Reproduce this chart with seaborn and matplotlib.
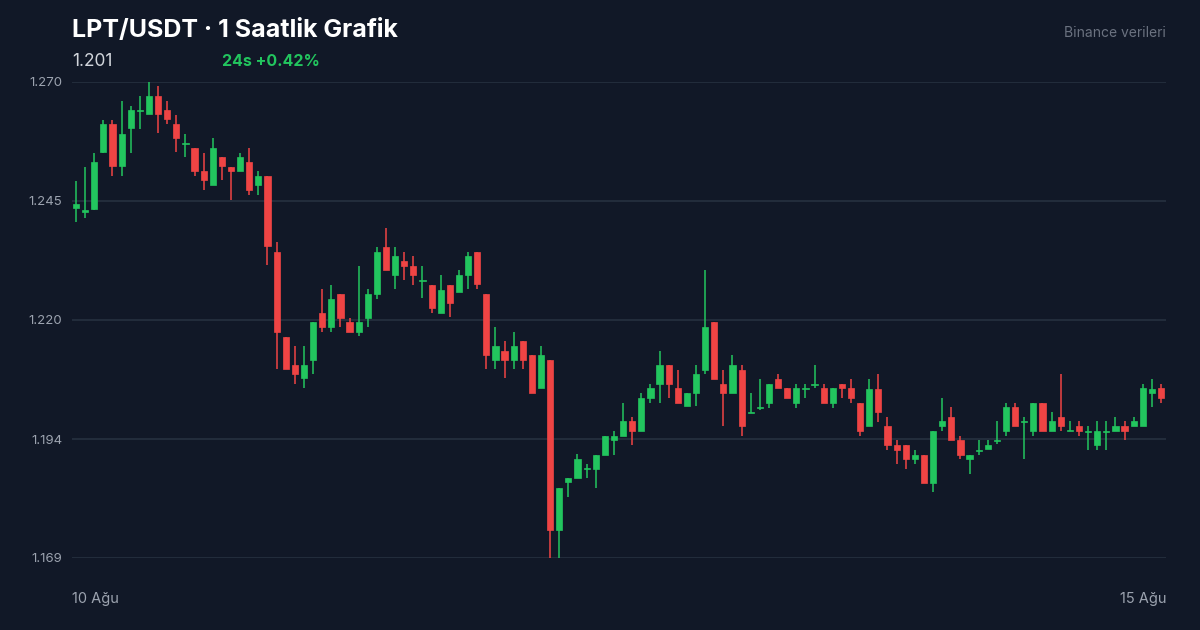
import numpy as np
import pandas as pd
import matplotlib
matplotlib.use("Agg")
import matplotlib.pyplot as plt
import seaborn as sns

# hourly candles, LPT/USDT
opens = [1.2433, 1.2424, 1.2431, 1.2552, 1.2611, 1.2522, 1.2602, 1.2639, 1.2632, 1.2670,
         1.2641, 1.2611, 1.2569, 1.2560, 1.2511, 1.2482, 1.2541, 1.2520, 1.2511, 1.2530,
         1.2482, 1.2501, 1.2340, 1.2159, 1.2100, 1.2072, 1.2111, 1.2210, 1.2181, 1.2251,
         1.2191, 1.2170, 1.2200, 1.2251, 1.2350, 1.2291, 1.2321, 1.2310, 1.2278, 1.2270,
         1.2210, 1.2270, 1.2255, 1.2291, 1.2340, 1.2251, 1.2111, 1.2130, 1.2111, 1.2151,
         1.2121, 1.2051, 1.2111, 1.1750, 1.1852, 1.1860, 1.1880, 1.1880, 1.1909, 1.1941,
         1.1950, 1.1981, 1.1960, 1.2030, 1.2060, 1.2100, 1.2051, 1.2013, 1.2041, 1.2089,
         1.2191, 1.2060, 1.2041, 1.2089, 1.1998, 1.2009, 1.2019, 1.2070, 1.2051, 1.2019,
         1.2049, 1.2058, 1.2051, 1.2019, 1.2060, 1.2051, 1.2019, 1.1971, 1.2049, 1.1971,
         1.1930, 1.1930, 1.1901, 1.1909, 1.1850, 1.1971, 1.1990, 1.1941, 1.1901, 1.1918,
         1.1922, 1.1939, 1.1960, 1.2011, 1.1979, 1.1960, 1.2019, 1.1960, 1.1990, 1.1960,
         1.1971, 1.1958, 1.1930, 1.1958, 1.1960, 1.1971, 1.1971, 1.1971, 1.2041, 1.2051]
closes = [1.2441, 1.2429, 1.2530, 1.2611, 1.2522, 1.2590, 1.2641, 1.2641, 1.2670, 1.2632,
          1.2622, 1.2581, 1.2571, 1.2511, 1.2492, 1.2560, 1.2522, 1.2511, 1.2541, 1.2471,
          1.2501, 1.2352, 1.2170, 1.2092, 1.2081, 1.2100, 1.2191, 1.2181, 1.2240, 1.2200,
          1.2170, 1.2191, 1.2251, 1.2340, 1.2301, 1.2331, 1.2310, 1.2291, 1.2280, 1.2221,
          1.2259, 1.2231, 1.2291, 1.2331, 1.2272, 1.2121, 1.2140, 1.2111, 1.2140, 1.2111,
          1.2041, 1.2121, 1.1750, 1.1839, 1.1860, 1.1901, 1.1882, 1.1909, 1.1950, 1.1950,
          1.1981, 1.1960, 1.2030, 1.2051, 1.2100, 1.2060, 1.2019, 1.2041, 1.2081, 1.2181,
          1.2070, 1.2041, 1.2100, 1.1971, 1.2000, 1.2011, 1.2060, 1.2051, 1.2030, 1.2051,
          1.2051, 1.2060, 1.2019, 1.2051, 1.2051, 1.2030, 1.1960, 1.2049, 1.2000, 1.1930,
          1.1920, 1.1901, 1.1909, 1.1850, 1.1960, 1.1981, 1.1941, 1.1909, 1.1909, 1.1920,
          1.1930, 1.1941, 1.2011, 1.1971, 1.1981, 1.2019, 1.1960, 1.1981, 1.1971, 1.1962,
          1.1960, 1.1960, 1.1960, 1.1960, 1.1971, 1.1960, 1.1981, 1.2051, 1.2049, 1.2030]
highs = [1.2490, 1.2520, 1.2549, 1.2619, 1.2619, 1.2660, 1.2649, 1.2670, 1.2700, 1.2692,
         1.2660, 1.2630, 1.2590, 1.2560, 1.2549, 1.2581, 1.2541, 1.2520, 1.2549, 1.2560,
         1.2511, 1.2501, 1.2361, 1.2159, 1.2140, 1.2140, 1.2191, 1.2261, 1.2270, 1.2251,
         1.2200, 1.2310, 1.2261, 1.2350, 1.2390, 1.2350, 1.2340, 1.2331, 1.2310, 1.2270,
         1.2291, 1.2270, 1.2301, 1.2340, 1.2340, 1.2251, 1.2181, 1.2151, 1.2170, 1.2151,
         1.2121, 1.2140, 1.2111, 1.1839, 1.1860, 1.1911, 1.1890, 1.1909, 1.1950, 1.1960,
         1.2019, 1.1990, 1.2041, 1.2060, 1.2130, 1.2100, 1.2089, 1.2041, 1.2100, 1.2301,
         1.2191, 1.2089, 1.2121, 1.2100, 1.2041, 1.2070, 1.2060, 1.2081, 1.2051, 1.2060,
         1.2060, 1.2100, 1.2060, 1.2051, 1.2060, 1.2070, 1.2019, 1.2070, 1.2081, 1.1990,
         1.1941, 1.1930, 1.1920, 1.1909, 1.1960, 1.2030, 1.2011, 1.1950, 1.1909, 1.1941,
         1.1941, 1.1981, 1.2019, 1.2019, 1.1990, 1.2019, 1.2019, 1.2000, 1.2081, 1.1981,
         1.1981, 1.1971, 1.1981, 1.1981, 1.1990, 1.1981, 1.1990, 1.2060, 1.2070, 1.2060]
lows = [1.2403, 1.2412, 1.2429, 1.2549, 1.2501, 1.2501, 1.2549, 1.2600, 1.2632, 1.2592,
        1.2611, 1.2552, 1.2541, 1.2501, 1.2471, 1.2482, 1.2492, 1.2450, 1.2511, 1.2460,
        1.2460, 1.2312, 1.2092, 1.2092, 1.2060, 1.2051, 1.2081, 1.2170, 1.2170, 1.2181,
        1.2170, 1.2162, 1.2181, 1.2240, 1.2301, 1.2261, 1.2280, 1.2270, 1.2242, 1.2210,
        1.2210, 1.2202, 1.2255, 1.2261, 1.2261, 1.2092, 1.2092, 1.2072, 1.2092, 1.2092,
        1.2041, 1.2051, 1.1691, 1.1691, 1.1820, 1.1860, 1.1860, 1.1839, 1.1909, 1.1909,
        1.1950, 1.1930, 1.1960, 1.2019, 1.2019, 1.2030, 1.2019, 1.2013, 1.2013, 1.2081,
        1.2070, 1.1971, 1.2041, 1.1950, 1.1998, 1.2005, 1.2009, 1.2051, 1.2030, 1.2009,
        1.2030, 1.2051, 1.2019, 1.2009, 1.2030, 1.2019, 1.1950, 1.1971, 1.1979, 1.1920,
        1.1890, 1.1880, 1.1890, 1.1850, 1.1831, 1.1960, 1.1941, 1.1901, 1.1869, 1.1909,
        1.1922, 1.1933, 1.1950, 1.1971, 1.1901, 1.1950, 1.1960, 1.1960, 1.1960, 1.1960,
        1.1950, 1.1920, 1.1920, 1.1920, 1.1960, 1.1941, 1.1971, 1.1971, 1.2011, 1.2019]

y_ticks = [1.1691, 1.1943, 1.2196, 1.2448, 1.2700]
x_labels = ["10 Ağu", "15 Ağu"]

BG = "#111827"
GREEN = "#22c55e"
RED = "#ef4444"
GRID = "#263140"
MUTED = "#9ca3af"

df = pd.DataFrame({"open": opens, "close": closes, "high": highs, "low": lows})
df["i"] = np.arange(len(df))
df["up"] = df["close"] >= df["open"]
df["color"] = np.where(df["up"], GREEN, RED)
df["bot"] = df[["open", "close"]].min(axis=1)
df["h"] = (df["close"] - df["open"]).abs().clip(lower=0.00022)

sns.set_theme(style="dark")
plt.rcParams["font.family"] = ["Inter", "DejaVu Sans"]

fig = plt.figure(figsize=(12, 6.3), dpi=100, facecolor=BG)
ax = fig.add_axes([0.06, 1 - 558 / 630, 0.9117, (558 - 82) / 630])
ax.set_facecolor(BG)

for t in y_ticks:
    ax.axhline(t, color=GRID, lw=1.2, zorder=0)

ax.vlines(df["i"], df["low"], df["high"], colors=df["color"], lw=1.1, zorder=2, clip_on=False)
ax.bar(df["i"], df["h"], bottom=df["bot"], width=0.68, color=df["color"],
       edgecolor=df["color"], lw=0.5, zorder=3)

ax.set_xlim(-0.44, len(df) - 1 + 0.55)
ax.set_ylim(y_ticks[0], y_ticks[-1])
ax.set_yticks(y_ticks)
ax.set_yticklabels([f"{t:.3f}" for t in y_ticks], color=MUTED, fontsize=9.5)
ax.tick_params(axis="y", length=0, pad=7)
ax.set_xticks([])
for s in ax.spines.values():
    s.set_visible(False)
ax.grid(False)

fig.text(72 / 1200, 1 - 30 / 630, "LPT/USDT · 1 Saatlik Grafik", color="white",
         fontsize=18, fontweight="bold", va="center")
fig.text(72 / 1200, 1 - 61 / 630, "1.201", color="#d1d5db", fontsize=12.5, va="center")
fig.text(222 / 1200, 1 - 61 / 630, "24s +0.42%", color=GREEN, fontsize=11.5,
         fontweight="bold", va="center")
fig.text(1166 / 1200, 1 - 33 / 630, "Binance verileri", color="#6b7280", fontsize=10,
         va="center", ha="right")
fig.text(72 / 1200, 1 - 599 / 630, x_labels[0], color=MUTED, fontsize=10.5, va="center")
fig.text(1166 / 1200, 1 - 599 / 630, x_labels[1], color=MUTED, fontsize=10.5,
         va="center", ha="right")

fig.savefig("out.png", dpi=100, facecolor=BG)
